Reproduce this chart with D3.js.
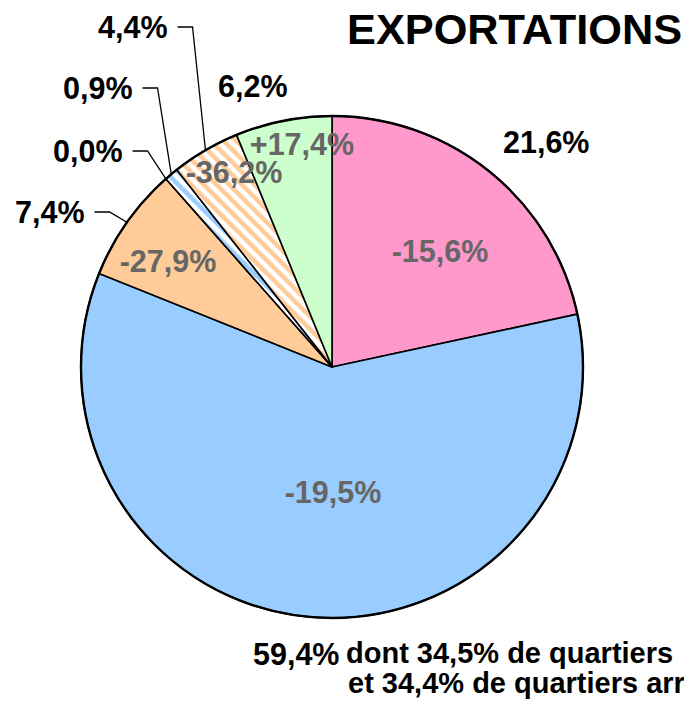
<!DOCTYPE html>
<html>
<head>
<meta charset="utf-8">
<script src="https://cdn.jsdelivr.net/npm/d3@7"></script>
<style>
  html, body { margin: 0; padding: 0; background: #fff; overflow: hidden; }
  svg { display: block; font-family: "Liberation Sans", Arial, sans-serif; font-weight: bold; }
</style>
</head>
<body>
<div id="chart"></div>
<script>
// --- data ---
const slices = ["rose", "bleu", "orange", "bleuVide", "bleuRaye", "orangeRaye", "vert"];
const shares = [21.6, 59.4, 7.4, 0.0, 0.9, 4.4, 6.2];          // % of exports
const changes = [-15.6, -19.5, -27.9, null, null, -36.2, 17.4]; // % change
const noteLines = ["dont 34,5% de quartiers", "et 34,4% de quartiers arr"];
const title = "EXPORTATIONS";

(function () {
  const W = 684, H = 701;
  const cx = 332, cy = 367, R = 251;

  const fills = {
    rose: "#ff99cc",
    bleu: "#99ccff",
    orange: "#ffcc99",
    bleuVide: "#99ccff",
    bleuRaye: "url(#hatch-blue)",
    orangeRaye: "url(#hatch-orange)",
    vert: "#ccffcc",
  };

  // label placement (text anchors); leader = draw an elbow line to the slice edge
  const outerPos = {
    rose: { x: 503, y: 153 },
    bleu: { x: 253, y: 665 },
    orange: { x: 15, y: 223, leader: true },
    bleuVide: { x: 53, y: 162, leader: true },
    bleuRaye: { x: 63, y: 99, leader: true },
    orangeRaye: { x: 98, y: 38, leader: true },
    vert: { x: 218, y: 97 },
  };
  const innerPos = {
    rose: { x: 440, y: 262 },
    bleu: { x: 333, y: 503 },
    orange: { x: 168, y: 272 },
    orangeRaye: { x: 234, y: 183 },
    vert: { x: 302, y: 155 },
  };

  // french decimals, plain hyphen for negatives
  const comma = (v) => d3.format(".1f")(v).replace(".", ",").replace("\u2212", "-");
  const fmtShare = (v) => comma(v) + "%";
  const fmtChange = (v) => (v > 0 ? "+" : "") + comma(v) + "%";

  const svg = d3.select("#chart").append("svg")
    .attr("width", W).attr("height", H)
    .attr("viewBox", `0 0 ${W} ${H}`);

  // --- hatch patterns ---
  const defs = svg.append("defs");
  [["hatch-orange", "#ffcc99"], ["hatch-blue", "#99ccff"]].forEach(([id, c]) => {
    const p = defs.append("pattern")
      .attr("id", id)
      .attr("patternUnits", "userSpaceOnUse")
      .attr("width", 9).attr("height", 9)
      .attr("patternTransform", "rotate(-45)");
    p.append("rect").attr("width", 9).attr("height", 9).attr("fill", "#fff");
    p.append("rect").attr("width", 4.5).attr("height", 9).attr("fill", c);
  });

  const data = slices.map((k, i) => ({ key: k, share: shares[i], change: changes[i] }));

  const pie = d3.pie().sort(null).value((d) => d.share)
    .startAngle(0).endAngle(2 * Math.PI);
  const arcs = pie(data);
  const arc = d3.arc().innerRadius(0).outerRadius(R);
  const edge = d3.arc().innerRadius(R).outerRadius(R);

  const g = svg.append("g").attr("transform", `translate(${cx},${cy})`);

  g.selectAll("path.slice")
    .data(arcs)
    .join("path")
    .attr("class", "slice")
    .attr("d", arc)
    .attr("fill", (d) => fills[d.data.key])
    .attr("stroke", "#000")
    .attr("stroke-width", 1.6)
    .attr("stroke-linejoin", "round");

  g.append("circle")
    .attr("r", R)
    .attr("fill", "none")
    .attr("stroke", "#000")
    .attr("stroke-width", 2.4);

  // --- inner labels: change ---
  svg.append("g").selectAll("text")
    .data(arcs.filter((d) => d.data.change !== null))
    .join("text")
    .attr("x", (d) => innerPos[d.data.key].x)
    .attr("y", (d) => innerPos[d.data.key].y)
    .attr("text-anchor", "middle")
    .attr("font-size", 30.5)
    .attr("fill", "#666666")
    .text((d) => fmtChange(d.data.change));

  // --- outer labels: share, with leader lines ---
  const outer = svg.append("g");
  arcs.forEach((d) => {
    const p = outerPos[d.data.key];
    const t = outer.append("text")
      .attr("x", p.x).attr("y", p.y)
      .attr("font-size", 30.5)
      .attr("fill", "#000")
      .text(fmtShare(d.data.share));
    if (!p.leader) return;
    const w = t.node().getComputedTextLength();
    const ly = p.y - 11;
    const x0 = p.x + w + 10;
    const [ex, ey] = edge.centroid(d);
    outer.append("polyline")
      .attr("points", [[x0, ly], [x0 + 15, ly], [cx + ex, cy + ey]].map((q) => q.join(",")).join(" "))
      .attr("fill", "none")
      .attr("stroke", "#000")
      .attr("stroke-width", 1.3);
  });

  // --- note under the big slice (cut by the right edge, as in the source) ---
  svg.append("text")
    .attr("font-size", 29)
    .selectAll("tspan")
    .data(noteLines)
    .join("tspan")
    .attr("x", (d, i) => (i === 0 ? 346 : 348))
    .attr("y", (d, i) => (i === 0 ? 663 : 693))
    .text((d) => d);

  // --- title ---
  svg.append("text")
    .attr("x", 347).attr("y", 44)
    .attr("font-size", 43.3)
    .attr("fill", "#000")
    .text(title);
})();
</script>
</body>
</html>
